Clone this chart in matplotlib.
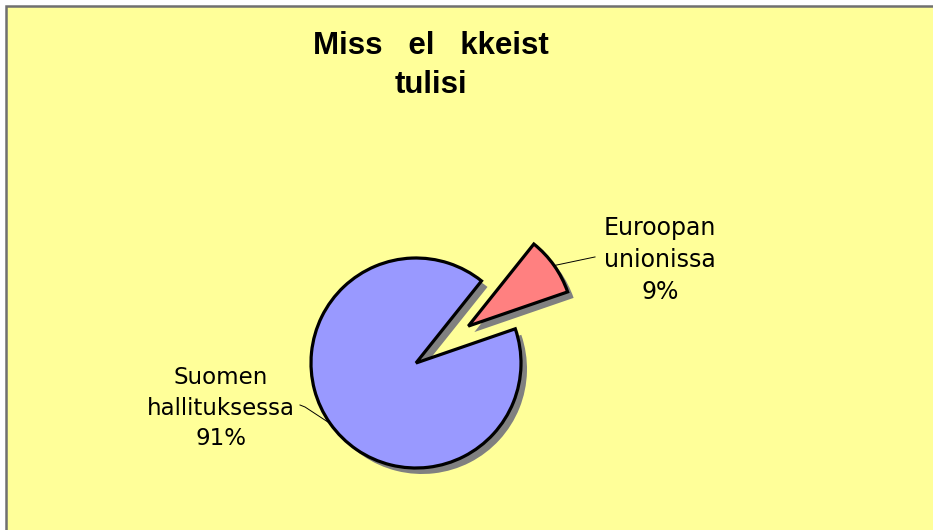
import numpy as np
import matplotlib.pyplot as plt
from matplotlib.patches import Rectangle

# chart data
labels = ["Suomen\nhallituksessa", "Euroopan\nunionissa"]
shares = [91, 9]
colors = ["#9999FF", "#FF8080"]
title = "Miss   el   kkeist\ntulisi"

W, H = 933, 530
fig = plt.figure(figsize=(W / 100, H / 100), dpi=100, facecolor="white")

# yellow chart area with grey frame on the left/top
fig.patches.append(Rectangle((6 / W, -0.05), 1.1, 1 - 6 / H + 0.05, transform=fig.transFigure,
                             facecolor="#FFFF99", edgecolor="#707070", linewidth=1.8, zorder=-5))

ax = fig.add_axes([0, 0, 1, 1])
ax.set_facecolor("none")
ax.set_zorder(2)

# pixel layout: pie centre (416, 363), radius 105 px
cx, cy, r = 416, 363, 105
start = 51.4
expl = [0, 0.61]
off = 6 / r

ax.pie(shares, colors=["#808080"] * 2, startangle=start, explode=expl, radius=1,
       center=(off, -off), wedgeprops=dict(linewidth=0))
wedges, _ = ax.pie(shares, colors=colors, startangle=start, explode=expl, radius=1,
                   wedgeprops=dict(edgecolor="black", linewidth=2.3))

ax.set_xlim(-cx / r, (W - cx) / r)
ax.set_ylim(-(H - cy) / r, cy / r)
ax.set_aspect("auto")
ax.axis("off")

# labels with leader lines
fracs = np.array(shares) / sum(shares)
edges = start + 360 * np.concatenate([[0], np.cumsum(fracs)])
mids = np.deg2rad((edges[:-1] + edges[1:]) / 2)

pct = [f"{v}%" for v in shares]
# Suomen
m = mids[0]
p = np.array([np.cos(m), np.sin(m)])
ax.plot([p[0], -1.057, -1.105], [p[1], -0.419, -0.40], color="black", lw=0.7)
ax.text(-1.86, -0.429, labels[0] + "\n" + pct[0], ha="center", va="center",
        fontsize=16.5, family="DejaVu Sans", linespacing=1.4)
# Euroopan
m = mids[1]
c = expl[1] * np.array([np.cos(m), np.sin(m)])
p = c + np.array([np.cos(m), np.sin(m)])
ax.plot([p[0], 1.705], [p[1], 1.01], color="black", lw=0.7)
ax.text(2.324, 0.981, labels[1] + "\n" + pct[1], ha="center", va="center",
        fontsize=17, family="DejaVu Sans", linespacing=1.4)

fig.text(431 / W, 1 - 65.5 / H, title, ha="center", va="center", fontsize=22.5,
         fontweight="bold", family="Liberation Sans", linespacing=1.4)

fig.savefig("out.png", dpi=100)
